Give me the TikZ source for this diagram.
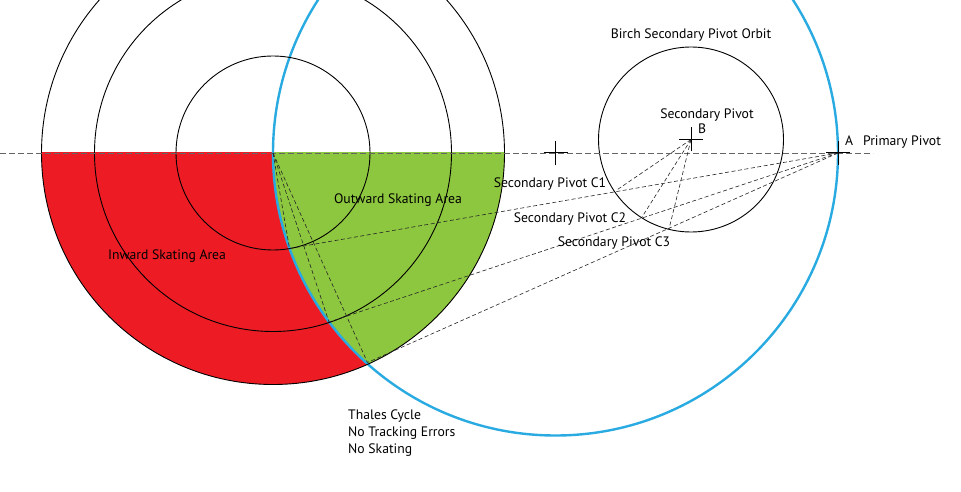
\documentclass[tikz,border=0pt]{standalone}
\usepackage{fontspec}
\setmainfont{PT Sans}
\definecolor{skred}{HTML}{ED1C24}
\definecolor{skgreen}{HTML}{8DC63F}
\definecolor{skblue}{HTML}{29ABE2}
\tikzset{orbit/.style={draw,line width=.9pt}}
\tikzset{thales/.style={draw=skblue,line width=2.4pt}}
\tikzset{guide/.style={draw,black!85,line width=.6pt,dash pattern=on 4pt off 2.5pt}}
\tikzset{axis/.style={draw,black!60,line width=.8pt,dash pattern=on 6pt off 3pt}}
\tikzset{tick/.style={draw,line width=1pt}}
\tikzset{lbl/.style={font=\fontsize{13.7}{17}\selectfont,inner sep=0pt}}
\begin{document}
\begin{tikzpicture}[x=1pt,y=-1pt]
    \clip (0,0) rectangle (961,492);
    \fill[white] (0,0) rectangle (961,492);

    \coordinate (ptT) at (273,153);
    \coordinate (ptM) at (555.5,153);
    \coordinate (ptA) at (838,153);
    \coordinate (ptB) at (691,139.5);
    \coordinate (axisl) at (0,153);
    \coordinate (axisr) at (873,153);

    % areas
    \begin{scope}
      \clip (0,153) rectangle (961,492);
      \fill[skred] (ptT) circle (231.5pt);
      \clip (ptM) circle (282.5pt);
      \fill[skgreen] (ptT) circle (231.5pt);
    \end{scope}

    \draw[thales] (ptM) circle (282.5pt);
    \foreach \r in {97,178.5,231.5}{
      \draw[orbit] (ptT) circle (\r pt);
    }
    \draw[orbit] (ptB) circle (92.5pt);
    \draw[axis] (axisl) -- (axisr);

    % guides
    \foreach \i/\cx/\cy/\sx/\sy in {1/289.5/248.5/616/190.5,2/329/322/642/217,3/367.5/362.5/669/229}{
      \coordinate (c\i) at (\cx,\cy);
      \coordinate (s\i) at (\sx,\sy);
      \draw[guide] (ptT) -- (c\i);
      \draw[guide] (ptA) -- (c\i);
      \draw[guide] (ptB) -- (s\i);
    }

    % crosses
    \foreach \p in {ptM,ptA,ptB}{
      \draw[tick] ([xshift=-12pt]\p) -- ([xshift=12pt]\p);
      \draw[tick] ([yshift=-12pt]\p) -- ([yshift=12pt]\p);
    }

    \node[lbl] (orbitlbl) at (691,35) {Birch Secondary Pivot Orbit};
    \node[lbl] (pivotlbl) at (707,115) {Secondary Pivot};
    \node[lbl] (blbl) at (702,129) {B};
    \node[lbl] (albl) at (849,141) {A};
    \node[lbl] (primlbl) at (902,142) {Primary Pivot};
    \node[lbl] (c1lbl) at (550,184) {Secondary Pivot C1};
    \node[lbl] (c2lbl) at (570,219) {Secondary Pivot C2};
    \node[lbl] (c3lbl) at (614,243) {Secondary Pivot C3};
    \node[lbl] (outlbl) at (398,200) {Outward Skating Area};
    \node[lbl] (inlbl) at (167,256) {Inward Skating Area};
    \node[lbl,align=left,anchor=north west] (thaleslbl) at (348,410) {Thales Cycle\\No Tracking Errors\\No Skating};
\end{tikzpicture}
\end{document}
